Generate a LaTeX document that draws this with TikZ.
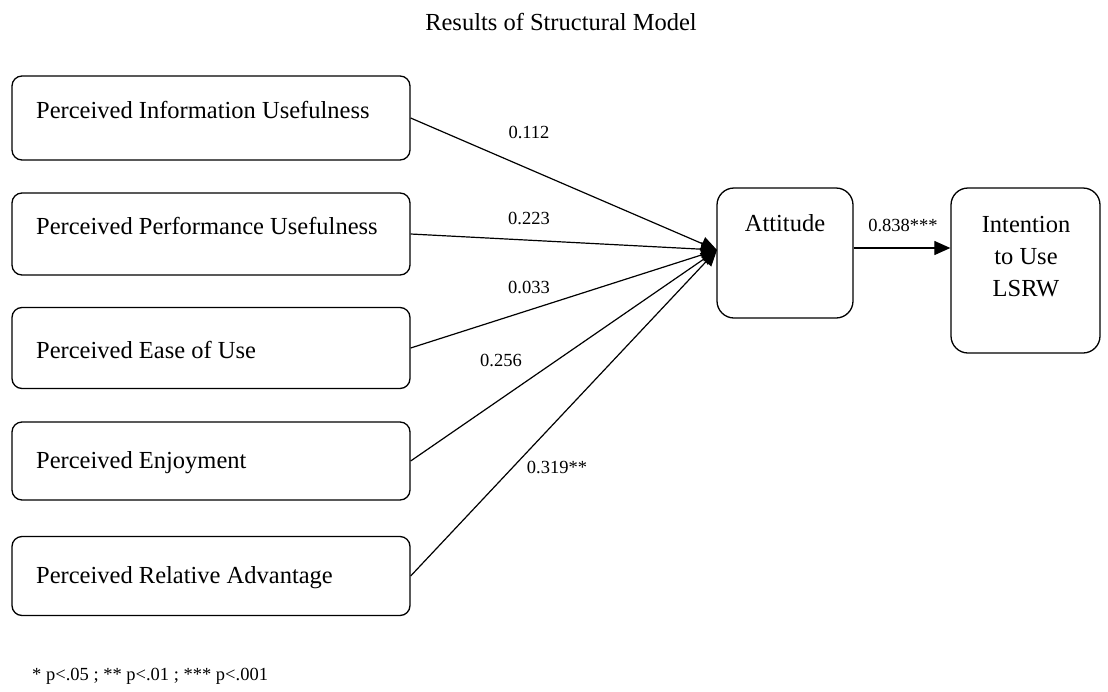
\documentclass[tikz,border=0pt]{standalone}
\usepackage{fontspec}
\setmainfont{Liberation Serif}
\usetikzlibrary{arrows.meta}
\begin{document}
\begin{tikzpicture}[x=1pt,y=-1pt,
  box/.style={draw, line width=1.3pt, rounded corners=10pt, minimum width=398pt, inner sep=0pt},
  bigbox/.style={draw, line width=1.3pt, rounded corners=17pt, inner sep=0pt},
  lbl/.style={font=\fontsize{24.5}{32}\selectfont, inner sep=0pt},
  coef/.style={font=\fontsize{18.5}{22}\selectfont, inner sep=0pt},
  link/.style={line width=1.2pt, -{Triangle[length=16pt,width=14pt]}}]
\useasboundingbox (0,0) rectangle (1108,691);

% title
\node[lbl] (title) at (561,22) {Results of Structural Model};

% predictor boxes
\node[box, minimum height=84pt] (b1) at (211,118) {};
\node[box, minimum height=82pt] (b2) at (211,234) {};
\node[box, minimum height=81pt] (b3) at (211,348) {};
\node[box, minimum height=78pt] (b4) at (211,461) {};
\node[box, minimum height=79pt] (b5) at (211,576) {};
\node[lbl, anchor=west] (t1) at (36,110) {Perceived Information Usefulness};
\node[lbl, anchor=west] (t2) at (36,226) {Perceived Performance Usefulness};
\node[lbl, anchor=west] (t3) at (36,350) {Perceived Ease of Use};
\node[lbl, anchor=west] (t4) at (36,463) {Perceived Enjoyment};
\node[lbl, anchor=west] (t5) at (36,578) {Perceived Relative Advantage};

% outcome boxes
\node[bigbox, minimum width=136pt, minimum height=130pt] (att) at (785,253) {};
\node[lbl] (attT) at (785,223) {Attitude};
\node[bigbox, minimum width=149pt, minimum height=165pt] (int) at (1025.5,270.5) {};
\node[lbl, align=center] (intT) at (1026,257) {Intention\\to Use\\LSRW};

% paths
\coordinate (hub) at (717,250);
\draw[link] (b1.east) -- (hub);
\draw[link] (b2.east) -- (hub);
\draw[link] (b3.east) -- (hub);
\draw[link] (b4.east) -- (hub);
\draw[link] (b5.east) -- (hub);
\draw[link] ([yshift=5pt]att.east) -- ([yshift=5pt]int.west |- att.east);

% path coefficients
\node[coef] (c1) at (529,132) {0.112};
\node[coef] (c2) at (529,218) {0.223};
\node[coef] (c3) at (529,287) {0.033};
\node[coef] (c4) at (501,360) {0.256};
\node[coef] (c5) at (557,467) {0.319**};
\node[coef] (c6) at (903,225) {0.838***};

% significance note
\node[coef, anchor=west] (note) at (32,676) {* p<.05 ; ** p<.01 ; *** p<.001};
\end{tikzpicture}
\end{document}
